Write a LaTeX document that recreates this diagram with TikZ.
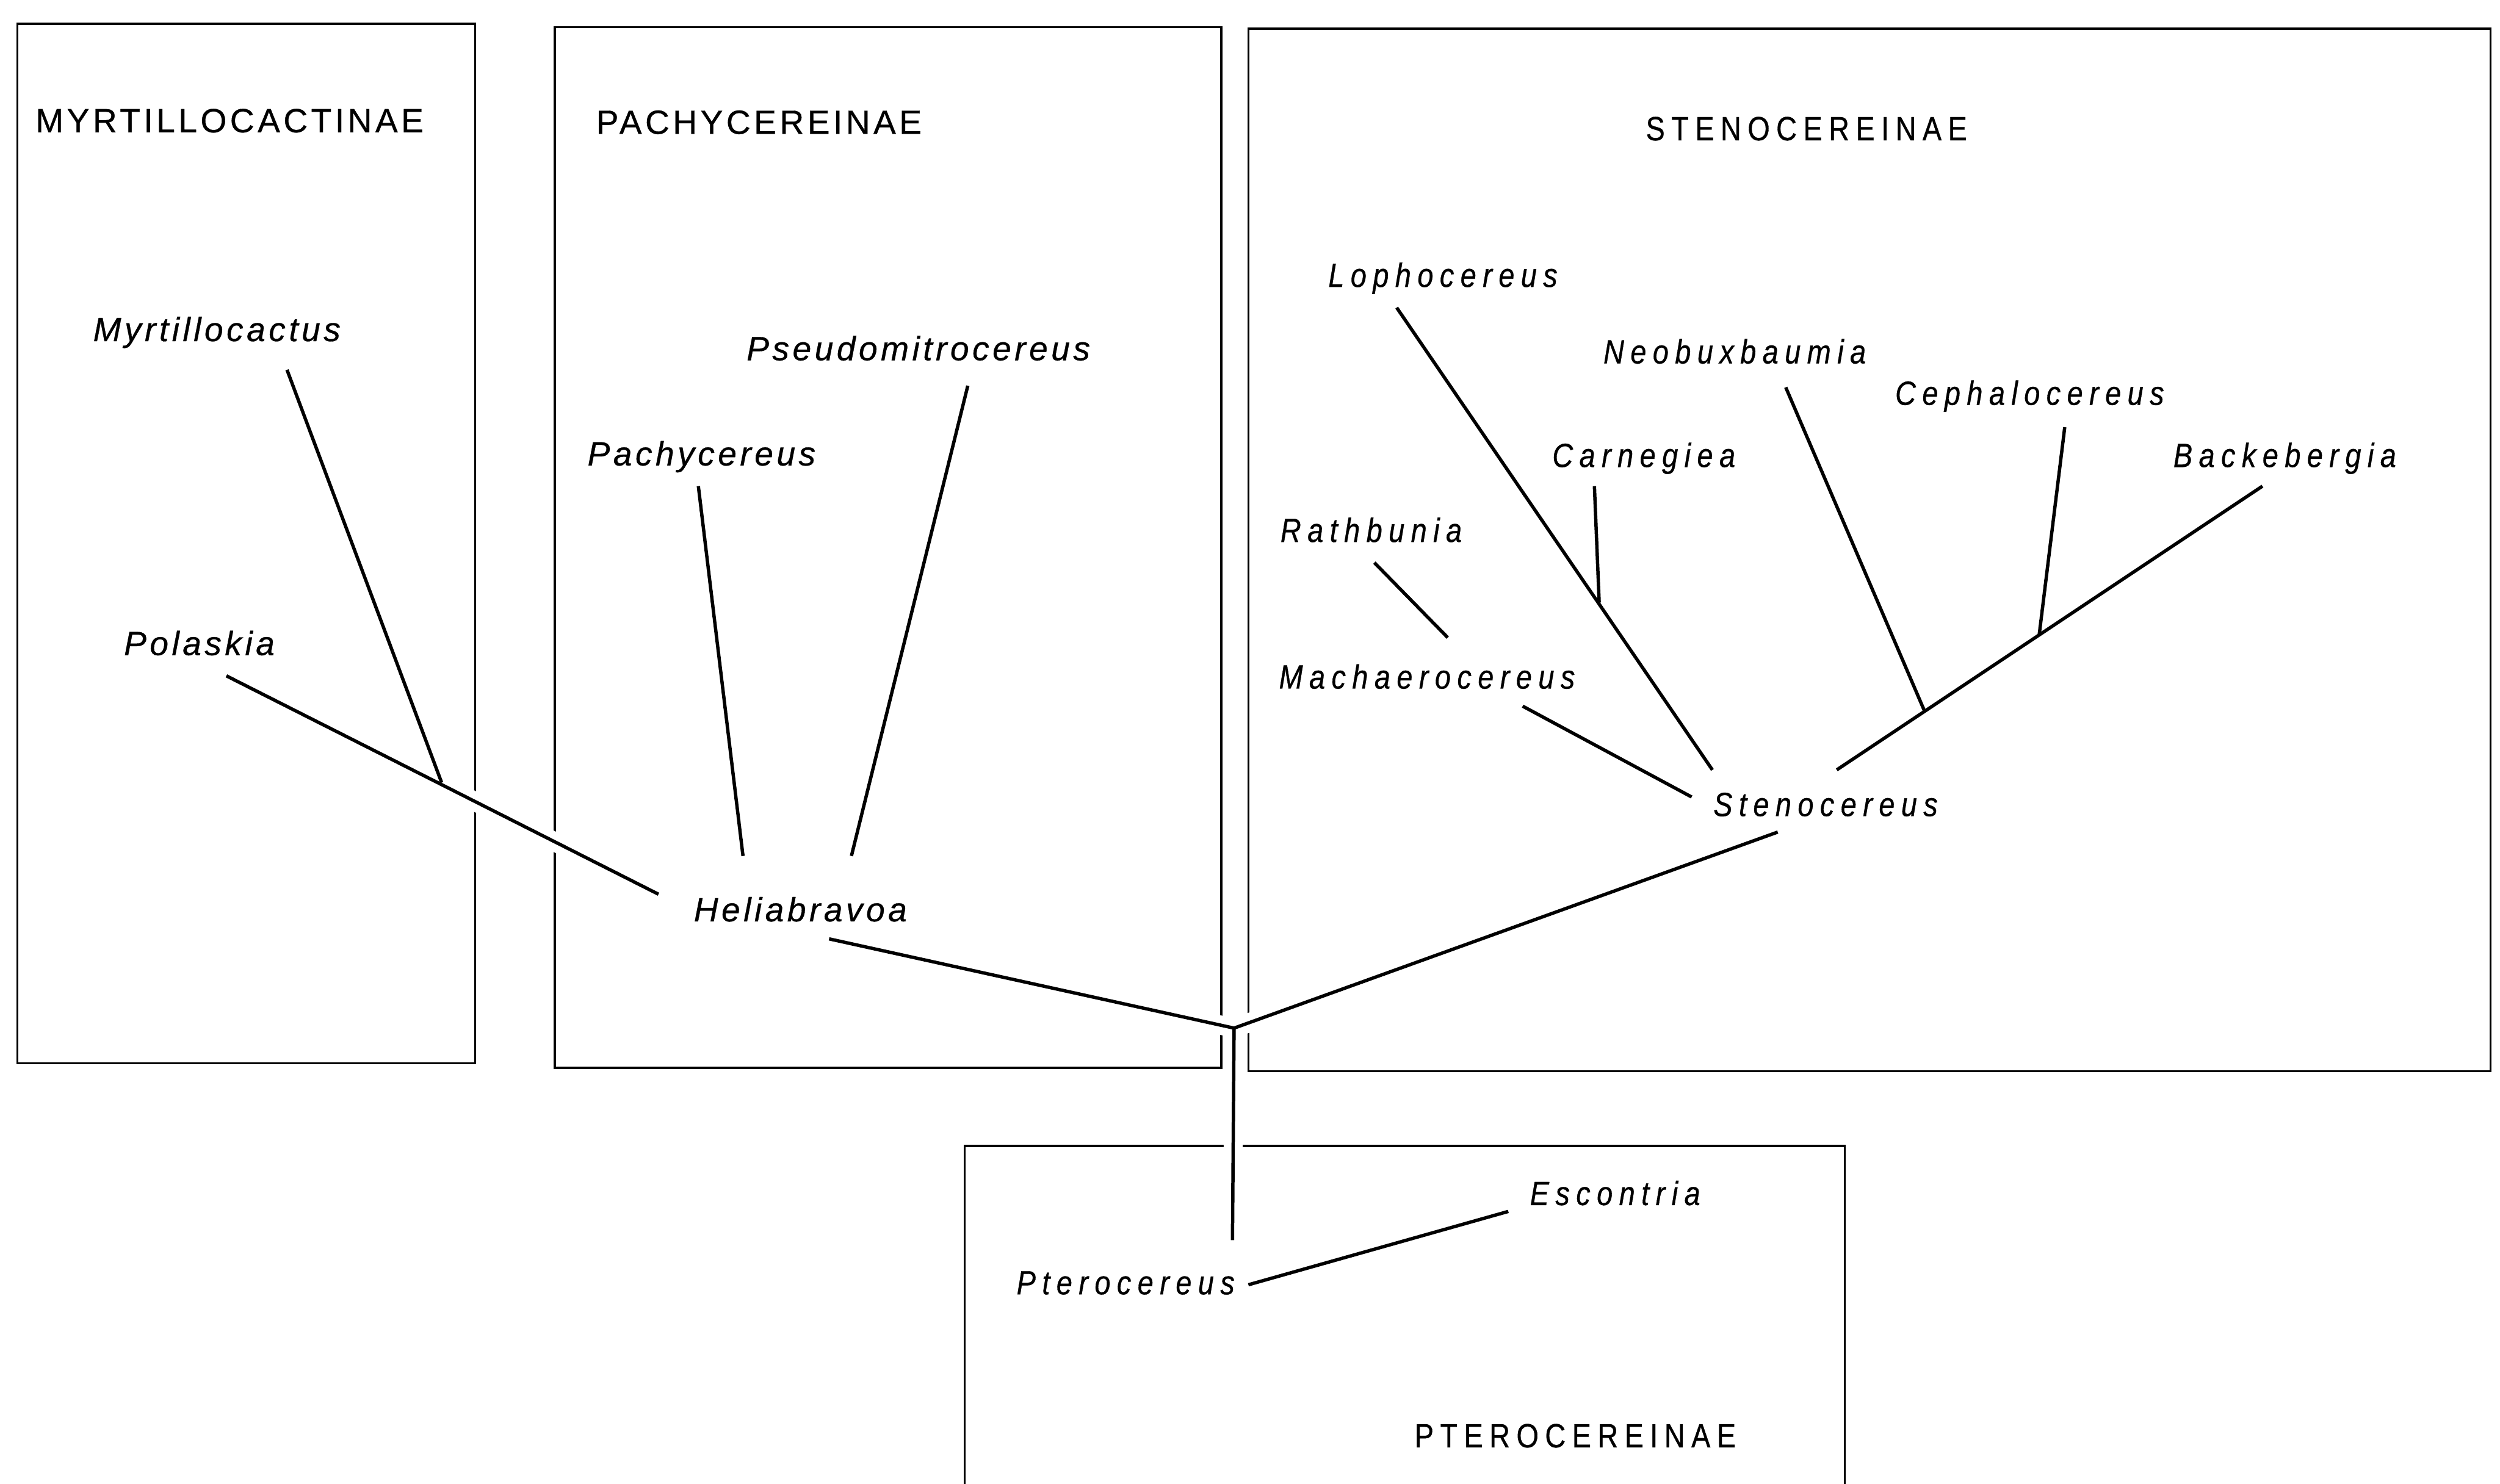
\documentclass[tikz,border=0pt]{standalone}
\usepackage{fontspec}
% two letterings: round and wide on the left, narrow on the right
\newfontfamily\roundfont{Liberation Sans}[LetterSpace=10, FakeBold=0.6]
\newfontfamily\narrowfont{Liberation Sans}[LetterSpace=19, FakeStretch=0.85, FakeBold=0.6]
\tikzset{
  frame/.style={draw=black, line width=0.27mm},
  branch/.style={draw=black, line width=0.42mm},
  halo/.style={draw=white, line width=2.4mm},
  taxon/.style={font=\roundfont\itshape\fontsize{12}{14}\selectfont, inner sep=0pt, anchor=base},
  taxon narrow/.style={taxon, font=\narrowfont\itshape\fontsize{12}{14}\selectfont},
  tribename/.style={font=\roundfont\fontsize{12}{14}\selectfont, inner sep=0pt, anchor=base},
  tribename narrow/.style={tribename, font=\narrowfont\fontsize{12}{14}\selectfont},
}
% tree edges, as pairs of named points
\def\branches{myrt-t/myrt-j, pola-t/heli-up, pach-t/heli-pa, pseu-t/heli-ps,
  heli-dn/root, sten-dn/root, root/pter-up, pter-rt/esco-t,
  loph-t/sten-lo, carn-t/carn-j, rath-t/mach-up, mach-t/sten-ma,
  sten-up/back-t, neob-t/neob-j, ceph-t/ceph-j}

\begin{document}
\begin{tikzpicture}[x=0.2mm, y=-0.2mm]
  \fill[white] (0,0) rectangle (1568,931);
  \useasboundingbox (0,0) rectangle (1568,931);
  % subtribe frames
  \draw[frame] (11,15) rectangle (298,667);
  \draw[frame] (348,17) rectangle (766,670);
  \draw[frame] (783,18) rectangle (1562,672);
  \draw[frame] (605,931) -- (605,719) -- (1157,719) -- (1157,931);
  % branch ends and forks
  \coordinate (myrt-t) at (180,232);
  \coordinate (myrt-j) at (277,491);
  \coordinate (pola-t) at (142,424);
  \coordinate (pach-t) at (438,305);
  \coordinate (pseu-t) at (607,242);
  \coordinate (heli-up) at (413,561);
  \coordinate (heli-pa) at (466,537);
  \coordinate (heli-ps) at (534,537);
  \coordinate (heli-dn) at (520,589);
  \coordinate (root) at (774,645);
  \coordinate (pter-up) at (773,778);
  \coordinate (pter-rt) at (783,806);
  \coordinate (esco-t) at (946,760);
  \coordinate (sten-dn) at (1115,522);
  \coordinate (sten-lo) at (1074,483);
  \coordinate (sten-ma) at (1061,500);
  \coordinate (sten-up) at (1152,483);
  \coordinate (loph-t) at (876,193);
  \coordinate (carn-t) at (1000,305);
  \coordinate (carn-j) at (1003,378);
  \coordinate (rath-t) at (862,353);
  \coordinate (mach-up) at (908,400);
  \coordinate (mach-t) at (955,443);
  \coordinate (neob-t) at (1120,243);
  \coordinate (neob-j) at (1207,446);
  \coordinate (ceph-t) at (1295,268);
  \coordinate (ceph-j) at (1279,398);
  \coordinate (back-t) at (1419,305);
  % white gaps where edges cross the frames, then the edges
  \foreach \a/\b in \branches
    \draw[halo] (\a) -- (\b);
  \foreach \a/\b in \branches
    \draw[branch] (\a) -- (\b);
  % subtribes
  \node[tribename] (myrtillo) at (144,83) {MYRTILLOCACTINAE};
  \node[tribename] (pachy) at (476,84) {PACHYCEREINAE};
  \node[tribename narrow] (steno) at (1133,88) {STENOCEREINAE};
  \node[tribename narrow] (ptero) at (988,908) {PTEROCEREINAE};
  % genera
  \node[taxon] (myrt) at (136,214) {Myrtillocactus};
  \node[taxon] (pola) at (125,411) {Polaskia};
  \node[taxon] (pach) at (440,292) {Pachycereus};
  \node[taxon] (pseu) at (576,226) {Pseudomitrocereus};
  \node[taxon] (heli) at (502,578) {Heliabravoa};
  \node[taxon narrow] (loph) at (905,180) {Lophocereus};
  \node[taxon narrow] (carn) at (1031,293) {Carnegiea};
  \node[taxon narrow] (rath) at (860,340) {Rathbunia};
  \node[taxon narrow] (mach) at (895,432) {Machaerocereus};
  \node[taxon narrow] (neob) at (1088,228) {Neobuxbaumia};
  \node[taxon narrow] (ceph) at (1273,254) {Cephalocereus};
  \node[taxon narrow] (back) at (1433,293) {Backebergia};
  \node[taxon narrow] (sten) at (1145,512) {Stenocereus};
  \node[taxon narrow] (esco) at (1013,756) {Escontria};
  \node[taxon narrow] (pter) at (706,812) {Pterocereus};
\end{tikzpicture}
\end{document}
